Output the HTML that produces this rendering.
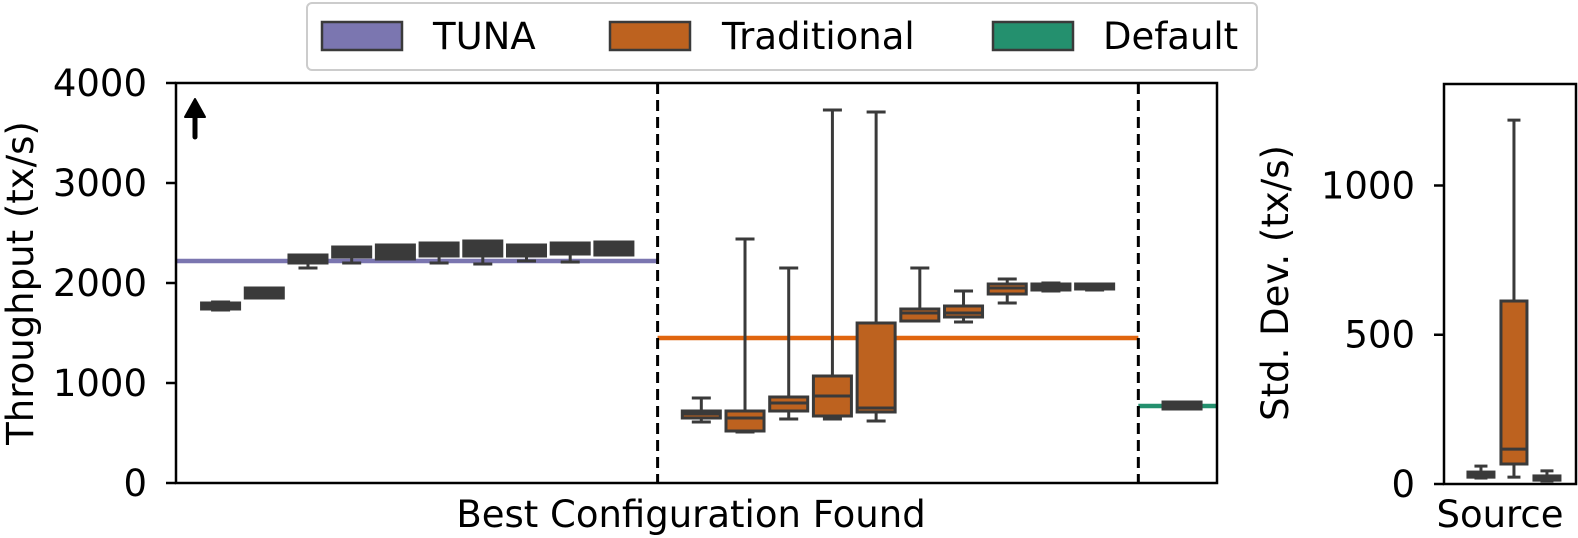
<!DOCTYPE html>
<html><head><meta charset="utf-8"><style>
html,body{margin:0;padding:0;background:#fff;}
svg{display:block;font-family:"DejaVu Sans","Liberation Sans",sans-serif;}
</style></head><body>
<svg id="chart" width="1578" height="538" viewBox="0 0 1578 538">
<rect width="1578" height="538" fill="#fff"/>
<g id="main"></g>
<g id="side"></g>
<g>
<rect x="307" y="3" width="950" height="67" rx="5" fill="#fff" stroke="#ccc" stroke-width="2"/>
<rect x="322" y="22" width="80" height="28" fill="#7b76b0" stroke="#3a3a3a" stroke-width="2.5"/>
<text x="433" y="49" font-size="37">TUNA</text>
<rect x="610" y="22" width="80" height="28" fill="#bd621f" stroke="#3a3a3a" stroke-width="2.5"/>
<text x="722" y="49" font-size="37">Traditional</text>
<rect x="993" y="22" width="80" height="28" fill="#24906e" stroke="#3a3a3a" stroke-width="2.5"/>
<text x="1103" y="49" font-size="37">Default</text>
</g>
</svg>
<script>
// Main plot data
const mainGroups = ["TUNA","TUNA","TUNA","TUNA","TUNA","TUNA","TUNA","TUNA","TUNA","TUNA",null,"Traditional","Traditional","Traditional","Traditional","Traditional","Traditional","Traditional","Traditional","Traditional","Traditional",null,"Default"];
const mainWMin = [1730,1860,2150,2200,2240,2200,2190,2220,2210,2280,null,610,510,640,640,620,1630,1610,1800,1920,1930,null,750];
const mainQ1   = [1740,1850,2200,2260,2240,2270,2270,2270,2290,2280,null,650,520,720,670,710,1620,1660,1890,1930,1940,null,740];
const mainMed  = [1770,1910,2240,2300,2310,2340,2300,2340,2340,2350,null,690,650,800,870,750,1700,1700,1950,1960,1965,null,780];
const mainQ3   = [1800,1950,2280,2360,2380,2400,2420,2380,2400,2410,null,720,720,860,1070,1600,1740,1770,1990,1990,1990,null,810];
const mainWMax = [1810,1940,2280,2360,2380,2400,2420,2380,2400,2410,null,850,2440,2150,3730,3710,2150,1920,2040,2000,1990,null,810];
const refLines = [{name:"TUNA",value:2220,from:-1.02,to:10},{name:"Traditional",value:1450,from:10,to:21},{name:"Default",value:770,from:21,to:22.8}];
const mainTicks = [0,1000,2000,3000,4000];
// Side plot data
const sideCats = ["TUNA","Traditional","Default"];
const sideWMin = [20,23,10];
const sideQ1 = [23,67,13];
const sideMed = [30,117,20];
const sideQ3 = [40,613,27];
const sideWMax = [60,1219,44];
const sideTicks = [0,500,1000];

const boxFill = {TUNA:"#3a3a3a",Traditional:"#bd621f",Default:"#3a3a3a"};
const lineColor = {TUNA:"#7b76b0",Traditional:"#e0650f",Default:"#24906e"};
const NS="http://www.w3.org/2000/svg";
function mk(parent,tag,attrs){const e=document.createElementNS(NS,tag);for(const k in attrs)e.setAttribute(k,attrs[k]);parent.appendChild(e);return e;}

const M={l:176,r:1217,t:83,b:483};
const xmin=-1.02,xmax=22.8,ymax=4000;
const mx=i=>M.l+(i-xmin)/(xmax-xmin)*(M.r-M.l);
const my=v=>M.b-v/ymax*(M.b-M.t);
const main=document.getElementById('main');
refLines.forEach(r=>{
  const l=mk(main,'line',{x1:mx(r.from),x2:mx(r.to),y1:my(r.value),y2:my(r.value),stroke:lineColor[r.name],'stroke-width':4.5});
  
  
});
[10,21].forEach((d,k)=>{
  const l=mk(main,'line',{x1:mx(d),x2:mx(d),y1:M.t,y2:M.b,stroke:'#000','stroke-width':3,'stroke-dasharray':'11,6'});
  
  
});
function drawBox(g,cx,w,y,q1,med,q3,wmin,wmax,fill,name){
  const bg=mk(g,'g',{});
  
  
  const st={stroke:'#3a3a3a','stroke-width':3};
  mk(bg,'line',Object.assign({x1:cx,x2:cx,y1:y(q3),y2:y(wmax)},st));
  mk(bg,'line',Object.assign({x1:cx,x2:cx,y1:y(q1),y2:y(wmin)},st));
  mk(bg,'line',Object.assign({x1:cx-w/4,x2:cx+w/4,y1:y(wmax),y2:y(wmax)},st));
  mk(bg,'line',Object.assign({x1:cx-w/4,x2:cx+w/4,y1:y(wmin),y2:y(wmin)},st));
  const top=Math.min(y(q1),y(q3)),h=Math.max(Math.abs(y(q1)-y(q3)),3);
  mk(bg,'rect',Object.assign({x:cx-w/2,y:top,width:w,height:h,fill:fill},st));
  mk(bg,'line',Object.assign({x1:cx-w/2,x2:cx+w/2,y1:y(med),y2:y(med)},st));
}
const bw=0.87*(mx(1)-mx(0));
mainGroups.forEach((g,i)=>{
  if(!g)return;
  drawBox(main,mx(i),bw,my,mainQ1[i],mainMed[i],mainQ3[i],mainWMin[i],mainWMax[i],boxFill[g],'box-'+g.toLowerCase()+'-'+i);
});
const mf=mk(main,'rect',{x:M.l,y:M.t,width:M.r-M.l,height:M.b-M.t,fill:'none',stroke:'#000','stroke-width':2.5});


mainTicks.forEach(t=>{
  mk(main,'line',{x1:M.l-10,x2:M.l,y1:my(t),y2:my(t),stroke:'#000','stroke-width':2.5});
  const tx=mk(main,'text',{x:M.l-29,y:my(t)+13,'font-size':37,'text-anchor':'end'});
  tx.textContent=t;
  
  
});
const yt=mk(main,'text',{x:0,y:0,'font-size':37,'text-anchor':'middle',transform:'translate(33,283) rotate(-90)'});
yt.textContent='Throughput (tx/s)';


const xt=mk(main,'text',{x:691,y:527,'font-size':37,'text-anchor':'middle'});
xt.textContent='Best Configuration Found';


const ar=mk(main,'g',{});


mk(ar,'line',{x1:195,x2:195,y1:137,y2:112,stroke:'#000','stroke-width':5,'stroke-linecap':'round'});
mk(ar,'path',{d:'M185,117 L195,99 L205,117 Z',fill:'#000',stroke:'#000','stroke-width':2,'stroke-linejoin':'round'});

const S={l:1444,r:1576,t:84,b:484};
const sxmin=-1.12,sxmax=2.88,symax=1340;
const sx=i=>S.l+(i-sxmin)/(sxmax-sxmin)*(S.r-S.l);
const sy=v=>S.b-v/symax*(S.b-S.t);
const side=document.getElementById('side');
sideCats.forEach((c,i)=>{
  drawBox(side,sx(i),26,sy,sideQ1[i],sideMed[i],sideQ3[i],sideWMin[i],sideWMax[i],boxFill[c],'std-box-'+c.toLowerCase());
});
const sf=mk(side,'rect',{x:S.l,y:S.t,width:S.r-S.l,height:S.b-S.t,fill:'none',stroke:'#000','stroke-width':2.5});


sideTicks.forEach(t=>{
  mk(side,'line',{x1:S.l-10,x2:S.l,y1:sy(t),y2:sy(t),stroke:'#000','stroke-width':2.5});
  const tx=mk(side,'text',{x:S.l-29,y:sy(t)+13,'font-size':37,'text-anchor':'end'});
  tx.textContent=t;
  
  
});
const syt=mk(side,'text',{x:0,y:0,'font-size':37,'text-anchor':'middle',transform:'translate(1288,283) rotate(-90)'});
syt.textContent='Std. Dev. (tx/s)';


const sxt=mk(side,'text',{x:1500,y:527,'font-size':37,'text-anchor':'middle'});
sxt.textContent='Source';


</script>
</body></html>
